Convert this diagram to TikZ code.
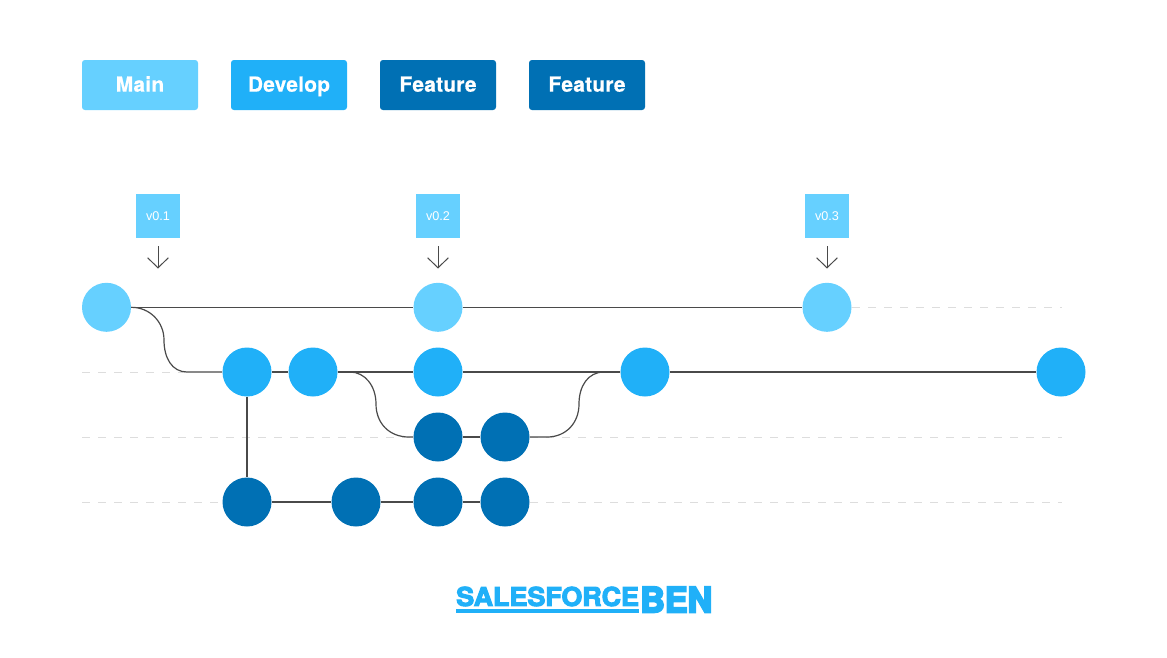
\documentclass[tikz,border=0pt]{standalone}
\usepackage{fontspec}
\setmainfont{Liberation Sans}
\newfontfamily\btnfont{TeX Gyre Heros}[UprightFont=*-Bold,RawFeature={embolden=0.6},LetterSpace=1.5]
\newfontfamily\logofont{TeX Gyre Heros}[UprightFont=*-Bold,RawFeature={embolden=4}]
\newfontfamily\logofontb{TeX Gyre Heros}[UprightFont=*-Bold,RawFeature={embolden=6}]
\usetikzlibrary{arrows.meta}
\definecolor{cmain}{HTML}{66D0FF}
\definecolor{cdev}{HTML}{20B0F8}
\definecolor{cfeat}{HTML}{0070B4}
\definecolor{cline}{HTML}{4A4A4A}
\definecolor{cdash}{HTML}{DDDDDD}
\tikzset{
  x=0.75pt,y=-0.75pt,
  commit/.style={circle,minimum size=36.75pt,inner sep=0pt,fill=#1},
  legend/.style={rectangle,rounded corners=2.2pt,minimum width=87pt,minimum height=37.5pt,inner sep=0pt,fill=#1,text=white,text height=10pt,text depth=0pt,font=\btnfont\fontsize{15.6}{16}\selectfont},
  tagbox/.style={rectangle,minimum width=32.5pt,minimum height=33pt,inner sep=0pt,fill=cmain,text=white,font=\fontsize{9.5}{9.5}\selectfont},
  branch/.style={cline,line width=0.9pt},
  guide/.style={cdash,line width=0.75pt,dash pattern=on 6pt off 6pt},
  tagarrow/.style={cline,line width=0.75pt,-{Straight Barb[length=7.5pt,width=15.5pt,line width=0.75pt]}}
}
\begin{document}
\begin{tikzpicture}
\useasboundingbox (0,0) rectangle (1167,657);
\fill[white] (0,0) rectangle (1167,657);
% guides
\coordinate (g1a) at (852,307); \coordinate (g1b) at (1062,307);
\coordinate (g2a) at (82,372);  \coordinate (g2b) at (187,372);
\coordinate (g3a) at (82,437);  \coordinate (g3b) at (1062,437);
\coordinate (g4a) at (82,502);  \coordinate (g4b) at (1062,502);
\draw[guide] (g1a) -- (g1b);
\draw[guide] (g2a) -- (g2b);
\draw[guide] (g3a) -- (g3b);
\draw[guide] (g4a) -- (g4b);
% legend
\node[legend=cmain] (l1) at (140,85) {Main};
\node[legend=cdev]  (l2) at (289,85) {Develop};
\node[legend=cfeat] (l3) at (438,85) {Feature};
\node[legend=cfeat] (l4) at (587,85) {Feature};
% commits
\node[commit=cmain] (m1) at (106.5,307.3) {};
\node[commit=cmain] (m2) at (438,307.3) {};
\node[commit=cmain] (m3) at (827,307.3) {};
\node[commit=cdev] (d1) at (247,372) {};
\node[commit=cdev] (d2) at (313,372) {};
\node[commit=cdev] (d3) at (438,372) {};
\node[commit=cdev] (d4) at (645,372) {};
\node[commit=cdev] (d5) at (1061,372) {};
\node[commit=cfeat] (f1) at (438,437) {};
\node[commit=cfeat] (f2) at (505,437) {};
\node[commit=cfeat] (h1) at (247,502) {};
\node[commit=cfeat] (h2) at (356,502) {};
\node[commit=cfeat] (h3) at (438,502) {};
\node[commit=cfeat] (h4) at (505,502) {};
% connectors
\draw[branch] (m1) -- (m2);
\draw[branch] (m2) -- (m3);
\draw[branch] (m1.east) .. controls (150,307.3) and (164,322) .. (164,340) .. controls (164,358) and (172,372) .. (187,372) -- (d1.west);
\draw[branch] (d1) -- (d2);
\draw[branch] (d2) -- (d3);
\draw[branch] (d3) -- (d4);
\draw[branch] (d4) -- (d5);
\draw[branch] (d1) -- (h1);
\draw[branch] (h1) -- (h2);
\draw[branch] (h2) -- (h3);
\draw[branch] (h3) -- (h4);
\draw[branch] (f1) -- (f2);
\draw[branch] (d2.east) -- (350,372) .. controls (365,372) and (376,386) .. (376,404) .. controls (376,423) and (389,437) .. (409,437) -- (f1.west);
\draw[branch] (f2.east) -- (547,437) .. controls (566,437) and (579,423) .. (579,404) .. controls (579,386) and (588,372) .. (604,372) -- (d4.west);
% tags
\node[tagbox] (t1) at (158,216) {v0.1};
\node[tagbox] (t2) at (438,216) {v0.2};
\node[tagbox] (t3) at (827,216) {v0.3};
\coordinate (a1) at (158,246); \coordinate (b1) at (158,268.5);
\coordinate (a2) at (438,246); \coordinate (b2) at (438,268.5);
\coordinate (a3) at (827,246); \coordinate (b3) at (827,268.5);
\draw[tagarrow] (a1) -- (b1);
\draw[tagarrow] (a2) -- (b2);
\draw[tagarrow] (a3) -- (b3);
% logo
\node[anchor=south west,inner sep=0pt,text=cdev] (logo1) at (456,606.5) {\resizebox{137pt}{14.4pt}{\logofont SALESFORCE}};
\node[anchor=south west,inner sep=0pt,text=cdev] (logo2) at (640,612.5) {\resizebox{54pt}{19pt}{\logofontb BEN}};
\fill[cdev] (456,609.2) rectangle (639,612.5);
\end{tikzpicture}
\end{document}
